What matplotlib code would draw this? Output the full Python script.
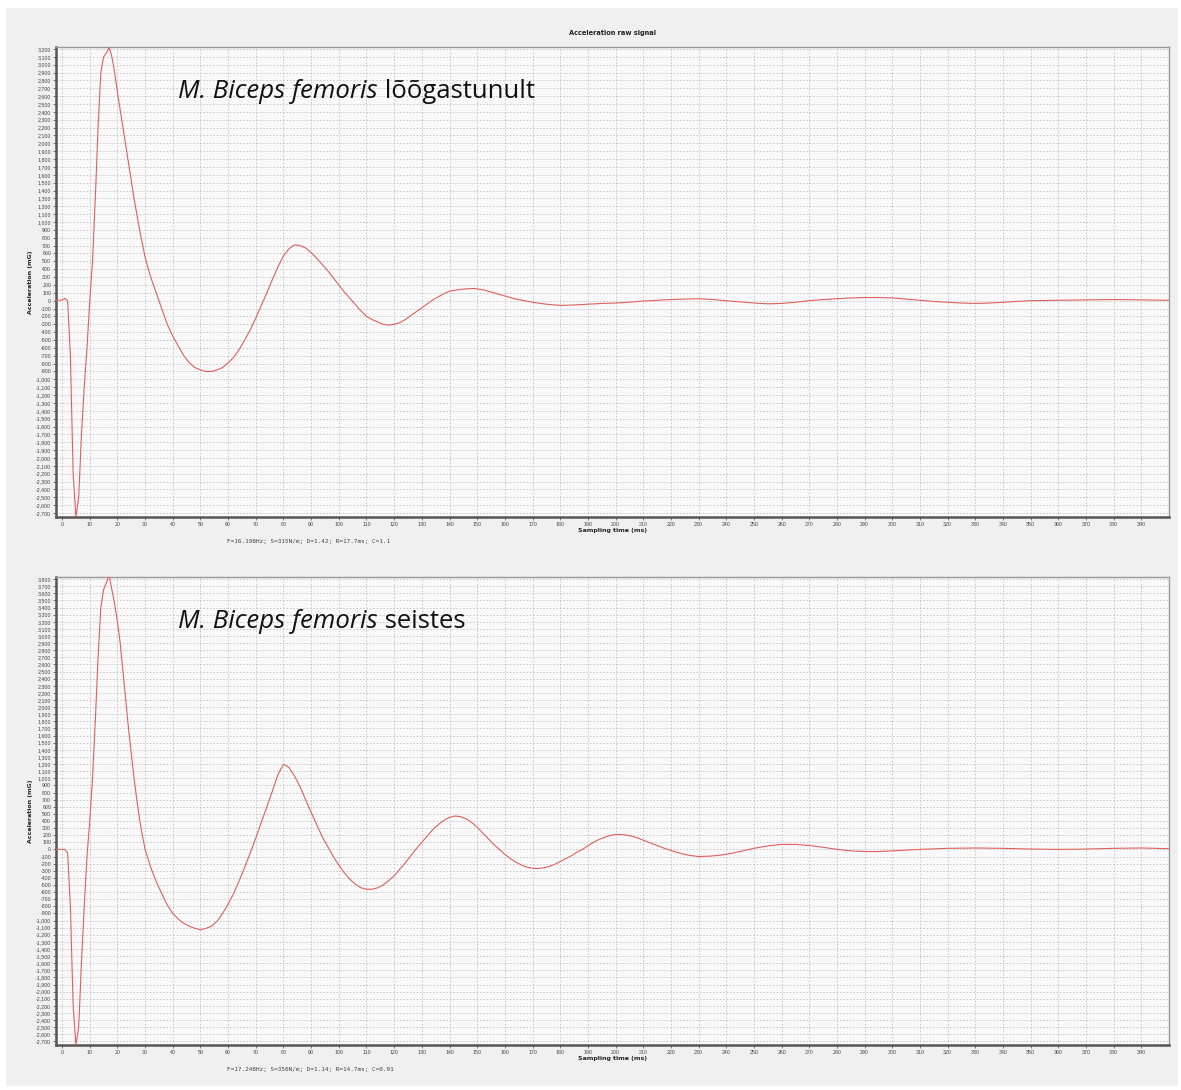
import matplotlib
matplotlib.use("Agg")
import matplotlib.pyplot as plt
from matplotlib.patches import Rectangle

# ---------------- data ----------------
top_t = [-2, 0, 1, 2, 3, 4, 5, 6, 7, 8, 9, 10, 11, 12, 13, 14, 15, 16, 17, 18, 19, 20,
         22, 24, 26, 28, 30, 32, 34, 36, 38, 40, 42, 44, 46, 48, 50, 52, 54, 56, 58, 60,
         62, 64, 66, 68, 70, 72, 74, 76, 78, 80, 82, 84, 86, 88, 90, 92, 94, 96, 98, 100,
         102, 104, 106, 108, 110, 112, 114, 116, 118, 120, 122, 124, 126, 128, 130, 132,
         134, 136, 138, 140, 143, 146, 149, 152, 155, 158, 161, 164, 167, 170, 175, 180,
         185, 190, 195, 200, 205, 210, 215, 220, 225, 230, 235, 240, 245, 250, 255, 260,
         265, 270, 275, 280, 285, 290, 295, 300, 305, 310, 315, 320, 325, 330, 335, 340,
         345, 350, 360, 370, 380, 390, 400]
top_v = [0, 10, 30, 0, -700, -2200, -2750, -2500, -1700, -1100, -600, 0, 500, 1300, 2200,
         2900, 3100, 3150, 3220, 3100, 2900, 2650,
         2200, 1750, 1300, 900, 550, 300, 100, -100, -300, -450, -580, -700, -790, -850,
         -880, -900, -900, -880, -850, -790,
         -720, -620, -500, -370, -220, -60, 100, 270, 430, 570, 660, 710, 700, 670, 610,
         540, 460, 380, 290, 200,
         110, 30, -50, -130, -200, -240, -270, -300, -310, -300, -280, -240, -190, -140,
         -90, -40,
         10, 50, 90, 120, 140, 150, 155, 140, 110, 80, 50, 20, 0, -20, -45, -60,
         -55, -45, -35, -30, -20, -5, 5, 15, 20, 25, 15, 0, -15, -30, -40, -35,
         -20, 0, 15, 25, 35, 40, 40, 35, 20, 5, -10, -20, -30, -35, -30, -20,
         -10, 0, 5, 10, 15, 10, 5]

bot_t = [-2, 0, 1, 2, 3, 4, 5, 6, 7, 8, 9, 10, 11, 12, 13, 14, 15, 16, 17, 18, 19, 20,
         21, 22, 23, 24, 25, 26, 27, 28, 29, 30, 32, 34, 36, 38, 40, 42, 44, 46, 48, 50,
         52, 54, 56, 58, 60, 62, 64, 66, 68, 70, 72, 74, 76, 78, 80, 82, 84, 86, 88, 90,
         92, 94, 96, 98, 100, 102, 104, 106, 108, 110, 112, 114, 116, 118, 120, 122, 124,
         126, 128, 130, 132, 134, 136, 138, 140, 142, 144, 146, 148, 150, 152, 154, 156,
         158, 160, 162, 164, 166, 168, 170, 172, 174, 176, 178, 180, 182, 184, 186, 188,
         190, 192, 194, 196, 198, 200, 202, 204, 206, 208, 210, 214, 218, 222, 226, 230,
         234, 238, 242, 246, 250, 255, 260, 265, 270, 275, 280, 285, 290, 295, 300, 310,
         320, 330, 340, 350, 360, 370, 380, 390, 400]
bot_v = [0, 0, 0, -50, -800, -2200, -2750, -2500, -1600, -800, -100, 400, 1000, 1800,
         2700, 3400, 3650, 3750, 3850, 3650, 3450, 3200,
         2900, 2500, 2100, 1700, 1350, 1000, 700, 420, 200, 0, -250, -450, -620, -780,
         -900, -980, -1040, -1080, -1110, -1130,
         -1110, -1080, -1010, -900, -770, -620, -440, -250, -50, 160, 380, 600, 820,
         1050, 1200, 1150, 1030, 880, 700, 520,
         350, 180, 40, -100, -220, -330, -420, -490, -540, -560, -560, -540, -500, -440,
         -370, -280, -190,
         -90, 10, 100, 190, 280, 350, 410, 450, 470, 460, 430, 380, 310, 230, 150, 70,
         0, -70, -130, -180, -220, -250, -265, -270, -260, -240, -210, -170, -130, -90,
         -40, 0,
         50, 100, 140, 170, 195, 210, 210, 200, 185, 160, 130, 70, 10, -40, -80, -100,
         -95, -80, -55, -20, 15, 50, 70, 70, 55, 30, 0, -20, -30, -30, -20, 0,
         15, 20, 15, 5, 0, 5, 15, 20, 10]

top_params = "F=16.198Hz; S=315N/m; D=1.42; R=17.7ms; C=1.1"
bot_params = "F=17.248Hz; S=350N/m; D=1.14; R=14.7ms; C=0.91"
top_label = ("M. Biceps femoris", " lõõgastunult")
bot_label = ("M. Biceps femoris", " seistes")
x_ticks = list(range(0, 400, 10))
top_yticks = list(range(-2700, 3201, 100))
bot_yticks = list(range(-2700, 3801, 100))

# ---------------- figure ----------------
W, H = 1181, 1090
fig = plt.figure(figsize=(W / 100, H / 100), dpi=100)
fig.patch.set_facecolor("white")
fig.patches.append(Rectangle((6 / W, 1 - 1086 / H), (1178 - 6) / W, (1086 - 8) / H,
                             transform=fig.transFigure, facecolor="#f0f0f0",
                             edgecolor="none", zorder=-10))

LINE = "#e06060"
GRID = "#c4c4c4"
TICKFONT = "Liberation Sans"


def fy(px):
    return 1 - px / H


def setup(ax, t, v, yticks, ylim, params, params_y, label, label_y, title=None):
    ax.set_facecolor("#f9f9f9")
    ax.plot(t, v, color=LINE, lw=0.8, zorder=3)
    ax.set_xlim(-2.2, 400)
    ax.set_ylim(*ylim)
    ax.set_xticks(x_ticks)
    ax.set_xticklabels([str(x) for x in x_ticks], family=TICKFONT)
    ax.set_yticks(yticks)
    ax.set_yticklabels([f"{y:,}" for y in yticks], family=TICKFONT)
    ax.tick_params(axis="both", labelsize=3.8, colors="#444444", length=2, width=0.5, pad=1.5)
    ax.grid(True, color=GRID, linestyle=(0, (2, 2)), linewidth=0.6)
    for s in ("left", "bottom"):
        ax.spines[s].set_color("#555555")
        ax.spines[s].set_linewidth(1.8)
    for s in ("top", "right"):
        ax.spines[s].set_color("#999999")
        ax.spines[s].set_linewidth(1.0)
    ax.set_ylabel("Acceleration (mG)", fontsize=4.5, fontweight="bold", labelpad=2,
                  color="#222222")
    ax.set_xlabel("Sampling time (ms)", fontsize=4.5, fontweight="bold", labelpad=0.5,
                  color="#222222")
    if title:
        ax.set_title(title, fontsize=4.8, fontweight="bold", pad=9, color="#222222")
    fig.text(227 / W, params_y, params, fontsize=4.3, family="DejaVu Sans Mono",
             color="#444444", va="center")
    t1 = fig.text(178 / W, label_y, label[0], fontsize=18.5, style="italic",
                  family="Open Sans", va="center", color="#111111")
    ax.annotate(label[1], xy=(1, 0), xycoords=t1, va="bottom", ha="left",
                fontsize=18.5, family="Open Sans", color="#111111")


ax1 = fig.add_axes([56 / W, fy(517), (1169 - 56) / W, (517 - 47) / H])
setup(ax1, top_t, top_v, top_yticks, (-2750, 3225), top_params, fy(541),
      top_label, fy(92), title="Acceleration raw signal")

ax2 = fig.add_axes([56 / W, fy(1045), (1169 - 56) / W, (1045 - 577) / H])
setup(ax2, bot_t, bot_v, bot_yticks, (-2750, 3830), bot_params, fy(1069),
      bot_label, fy(621))

fig.savefig("out.png", dpi=100, facecolor=fig.get_facecolor())
